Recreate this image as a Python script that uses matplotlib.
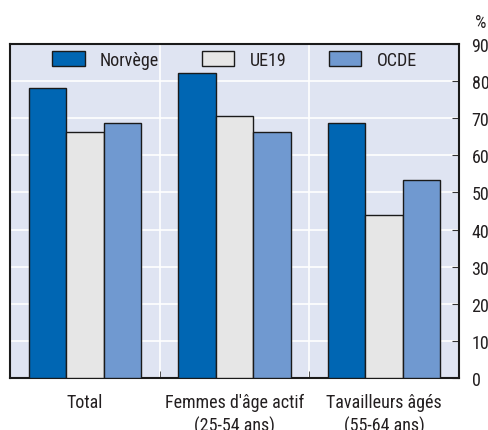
import numpy as np
import matplotlib.pyplot as plt

categories = ['Total', "Femmes d'âge actif\n(25-54 ans)", 'Tavailleurs âgés\n(55-64 ans)']
series_names = ['Norvège', 'UE19', 'OCDE']
norvege = [78.2, 82.2, 68.7]
ue19 = [66.3, 70.6, 43.9]
ocde = [68.7, 66.3, 53.4]
yticks = [0, 10, 20, 30, 40, 50, 60, 70, 80, 90]

colors = ['#0066b3', '#e6e6e6', '#7099d0']
txtcol = '#231f20'

plt.rcParams['font.family'] = ['Roboto Condensed', 'DejaVu Sans']

fig = plt.figure(figsize=(4.89, 4.31), dpi=100)
ax = fig.add_axes([0.0204, 0.1206, 0.9183, 0.775])
ax.set_facecolor('#dfe4f2')

x = np.arange(len(categories))
w = 0.25
for i, (vals, name) in enumerate(zip([norvege, ue19, ocde], series_names)):
    ax.bar(x + (i - 1) * w, vals, w, color=colors[i], edgecolor='#1a1a1a',
           linewidth=1.0, label=name, zorder=3)

ax.set_xlim(-0.5, 2.5)
ax.set_ylim(0, 90)
ax.set_yticks(yticks)
ax.yaxis.tick_right()
ax.tick_params(axis='y', direction='in', length=5, pad=9, labelsize=13,
               color='#333333', labelcolor=txtcol)
ax.set_xticks(x)
ax.set_xticklabels(categories, linespacing=1.3)
ax.tick_params(axis='x', length=0, pad=11, labelsize=13, labelcolor=txtcol)
ax.set_xticks([0.5, 1.5], minor=True)
ax.tick_params(axis='x', which='minor', direction='in', length=5, color='#333333')

for yv in yticks[1:]:
    ax.axhline(yv, color='white', linewidth=1.2, zorder=1)
for xv in [0.5, 1.5]:
    ax.axvline(xv, color='white', linewidth=1.2, zorder=1)

for s in ax.spines.values():
    s.set_linewidth(1.5)
    s.set_color('#1a1a1a')

leg = ax.legend(loc='center', ncol=3, frameon=False, fontsize=13,
                bbox_to_anchor=(0.5, 0.953), handlelength=1.8, handleheight=0.9,
                columnspacing=2.35, handletextpad=0.85, borderpad=0, borderaxespad=0)
for t in leg.get_texts():
    t.set_color(txtcol)

fig.text(0.971, 0.947, '%', fontsize=13, color=txtcol, ha='left', va='center')

fig.savefig('out.png', dpi=100)
